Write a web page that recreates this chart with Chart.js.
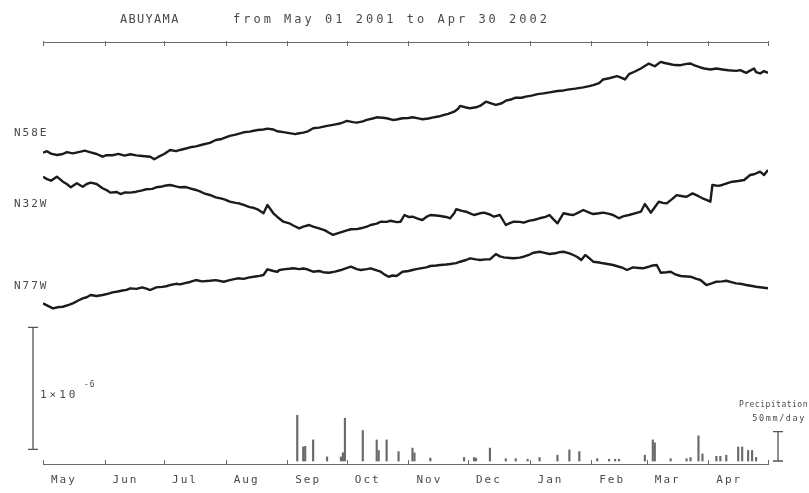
<!DOCTYPE html>
<html>
<head>
<meta charset="utf-8">
<title>ABUYAMA strain</title>
<script src="https://cdn.jsdelivr.net/npm/chart.js@4.4.1/dist/chart.umd.min.js"></script>
<style>
  html, body { margin: 0; padding: 0; background: #fff; }
  #wrap { width: 809px; height: 493px; position: relative; }
</style>
</head>
<body>
<div id="wrap"><canvas id="strainChart"></canvas></div>
<script>
// days counted from May 01 2001, strain change in units of 1e-6
const months = ['May', 'Jun', 'Jul', 'Aug', 'Sep', 'Oct', 'Nov', 'Dec', 'Jan', 'Feb', 'Mar', 'Apr'];
const monthStarts = [0, 31, 61, 92, 123, 153, 184, 214, 245, 276, 304, 335, 365];
const components = ['N58E', 'N32W', 'N77W'];
const traceBase = [2.552, 2.355, 1.317]; // where each trace sits on the sheet

const n58e = [[0,0],[2,0.012],[4,-0.008],[7,-0.019],[10,-0.011],[12,0.004],[15,-0.006],[19,0.008],[21,0.016],[24,0.002],
  [27,-0.011],[30,-0.033],[32,-0.02],[35,-0.021],[38,-0.01],[41,-0.024],[44,-0.013],[47,-0.022],[50,-0.027],[54,-0.033],
  [56,-0.054],[58,-0.035],[61,-0.011],[64,0.022],[67,0.012],[69,0.022],[72,0.034],[74,0.044],[77,0.052],[81,0.069],
  [84,0.08],[87,0.104],[90,0.112],[94,0.137],[97,0.148],[101,0.167],[104,0.172],[108,0.186],[111,0.19],[113,0.197],
  [116,0.19],[118,0.175],[121,0.168],[124,0.16],[127,0.152],[129,0.159],[131,0.164],[133,0.172],[136,0.2],[139,0.205],
  [143,0.219],[146,0.228],[150,0.241],[153,0.26],[156,0.25],[158,0.246],[161,0.256],[163,0.268],[166,0.28],[168,0.29],
  [171,0.286],[173,0.282],[176,0.268],[178,0.272],[181,0.282],[184,0.284],[186,0.29],[189,0.281],[191,0.274],[194,0.28],
  [196,0.287],[199,0.296],[202,0.309],[204,0.318],[207,0.336],[209,0.36],[210,0.383],[213,0.37],[215,0.364],[218,0.372],
  [220,0.383],[223,0.418],[226,0.402],[228,0.391],[231,0.405],[233,0.426],[236,0.438],[238,0.451],[241,0.45],[243,0.459],
  [246,0.468],[249,0.48],[252,0.486],[255,0.494],[259,0.505],[262,0.51],[265,0.519],[268,0.525],[272,0.535],[275,0.545],
  [277,0.554],[280,0.57],[282,0.6],[285,0.61],[289,0.627],[291,0.615],[293,0.6],[295,0.643],[298,0.665],[301,0.69],
  [303,0.71],[305,0.73],[308,0.708],[311,0.744],[313,0.735],[316,0.725],[318,0.718],[321,0.717],[324,0.728],[326,0.731],
  [328,0.716],[331,0.698],[333,0.69],[336,0.682],[339,0.69],[342,0.682],[345,0.675],[349,0.67],[351,0.676],[354,0.654],
  [356,0.672],[358,0.69],[359,0.66],[361,0.649],[363,0.668],[365,0.654]];

const n32w = [[0,0],[2,-0.02],[4,-0.033],[7,0],[10,-0.041],[12,-0.06],[14,-0.087],[17,-0.054],[20,-0.082],[22,-0.06],
  [24,-0.049],[27,-0.06],[30,-0.095],[32,-0.11],[34,-0.131],[37,-0.125],[39,-0.142],[41,-0.13],[44,-0.131],[47,-0.123],
  [50,-0.112],[52,-0.103],[55,-0.1],[57,-0.087],[60,-0.08],[62,-0.072],[64,-0.068],[67,-0.08],[69,-0.087],[72,-0.085],
  [74,-0.095],[77,-0.109],[79,-0.12],[81,-0.136],[84,-0.15],[87,-0.169],[90,-0.18],[92,-0.19],[94,-0.205],[97,-0.215],
  [99,-0.22],[101,-0.232],[104,-0.25],[106,-0.255],[108,-0.267],[111,-0.3],[113,-0.232],[116,-0.3],[118,-0.33],[121,-0.369],
  [124,-0.382],[126,-0.4],[129,-0.423],[131,-0.41],[134,-0.396],[136,-0.41],[139,-0.423],[142,-0.44],[144,-0.46],[146,-0.477],
  [149,-0.46],[151,-0.45],[153,-0.44],[155,-0.431],[158,-0.43],[160,-0.423],[163,-0.41],[165,-0.396],[168,-0.385],[170,-0.369],
  [173,-0.37],[175,-0.361],[178,-0.372],[180,-0.369],[182,-0.314],[184,-0.33],[186,-0.328],[189,-0.345],[191,-0.355],[193,-0.33],
  [195,-0.314],[198,-0.318],[200,-0.322],[203,-0.33],[205,-0.341],[207,-0.3],[208,-0.267],[211,-0.28],[213,-0.287],[215,-0.3],
  [217,-0.314],[220,-0.3],[222,-0.295],[225,-0.31],[227,-0.328],[230,-0.314],[233,-0.396],[235,-0.38],[237,-0.369],[240,-0.37],
  [242,-0.377],[245,-0.36],[247,-0.355],[250,-0.341],[253,-0.33],[255,-0.314],[257,-0.35],[259,-0.382],[262,-0.3],[265,-0.31],
  [267,-0.314],[270,-0.29],[272,-0.273],[275,-0.295],[277,-0.306],[280,-0.3],[282,-0.295],[285,-0.305],[287,-0.314],[290,-0.341],
  [292,-0.325],[295,-0.314],[298,-0.3],[301,-0.287],[303,-0.224],[306,-0.295],[308,-0.25],[310,-0.205],[312,-0.215],[314,-0.219],
  [317,-0.18],[319,-0.151],[322,-0.16],[324,-0.164],[327,-0.137],[330,-0.16],[332,-0.177],[334,-0.19],[336,-0.205],[337,-0.068],
  [340,-0.075],[342,-0.068],[345,-0.05],[347,-0.041],[350,-0.035],[353,-0.027],[356,0.014],[358,0.02],[361,0.041],[363,0.014],
  [365,0.055]];

const n77w = [[0,0],[3,-0.025],[5,-0.041],[8,-0.03],[10,-0.028],[13,-0.012],[15,0],[18,0.025],[20,0.041],[22,0.05],
  [24,0.068],[27,0.06],[30,0.068],[33,0.08],[35,0.09],[37,0.095],[40,0.105],[42,0.11],[44,0.123],[47,0.118],
  [50,0.131],[52,0.12],[54,0.109],[57,0.131],[60,0.135],[62,0.14],[64,0.15],[67,0.16],[69,0.155],[71,0.164],
  [74,0.175],[77,0.191],[80,0.18],[84,0.185],[87,0.19],[91,0.177],[94,0.19],[98,0.205],[101,0.2],[104,0.213],
  [107,0.22],[109,0.225],[111,0.232],[113,0.279],[116,0.265],[118,0.259],[119,0.273],[122,0.28],[124,0.283],[126,0.287],
  [129,0.28],[131,0.285],[133,0.279],[136,0.259],[139,0.265],[141,0.255],[144,0.251],[147,0.26],[150,0.273],[152,0.285],
  [155,0.3],[158,0.28],[160,0.273],[163,0.28],[165,0.287],[168,0.27],[170,0.259],[172,0.235],[174,0.218],[176,0.228],
  [178,0.224],[181,0.259],[184,0.265],[186,0.273],[188,0.28],[190,0.287],[193,0.295],[195,0.306],[198,0.31],[200,0.314],
  [203,0.318],[205,0.322],[208,0.33],[210,0.341],[213,0.355],[215,0.369],[218,0.36],[220,0.355],[223,0.36],[225,0.361],
  [228,0.404],[230,0.385],[232,0.377],[235,0.372],[237,0.369],[240,0.375],[242,0.382],[245,0.4],[247,0.415],[250,0.423],
  [252,0.415],[255,0.404],[258,0.41],[260,0.42],[262,0.423],[265,0.41],[267,0.396],[269,0.38],[271,0.355],[273,0.396],
  [275,0.37],[277,0.341],[280,0.335],[282,0.328],[285,0.32],[287,0.314],[290,0.3],[292,0.29],[294,0.273],[297,0.295],
  [300,0.29],[302,0.287],[305,0.3],[307,0.31],[309,0.314],[311,0.251],[314,0.255],[316,0.259],[318,0.24],[321,0.224],
  [324,0.22],[326,0.218],[329,0.2],[331,0.191],[334,0.15],[337,0.165],[339,0.177],[342,0.18],[344,0.185],[347,0.172],
  [349,0.164],[352,0.158],[354,0.15],[357,0.142],[359,0.136],[362,0.13],[365,0.123]];

// daily precipitation, mm/day
const precip = [[128,78],[131,24],[132,25],[136,36],[143,7],[150,7],[151,14],[152,73],[161,52],[168,36],
  [169,18],[173,36],[179,16],[186,22],[187,14],[195,5],[212,6],[217,6],[218,5],[225,22],
  [233,4],[238,4],[244,3],[250,6],[259,10],[265,19],[270,16],[279,4],[285,3],[288,3],
  [290,3],[303,10],[307,36],[308,31],[316,4],[324,4],[326,6],[330,43],[332,12],[339,8],
  [341,8],[344,10],[350,24],[352,24],[355,18],[357,18],[359,6]];

const traces = [n58e, n32w, n77w];
const labelShift = [-21, 26, -18]; // px from the start of each trace

const lineSets = traces.map((t, i) => ({
  type: 'line',
  label: components[i],
  data: t.map(p => ({ x: p[0], y: traceBase[i] + p[1] })),
  yAxisID: 'y',
  borderColor: '#1b1b1b',
  borderWidth: 2.4,
  borderJoinStyle: 'round',
  pointRadius: 0,
  tension: 0
}));

const rainSet = {
  type: 'bar',
  label: 'Precipitation',
  data: precip.map(p => ({ x: p[0], y: p[1] })),
  yAxisID: 'yp',
  backgroundColor: '#6a6a6a',
  barThickness: 1.5
};

const mono = 'DejaVu Sans Mono';

function spaced(ctx, text, x, y, size, spacing, align) {
  ctx.font = size + 'px "' + mono + '"';
  ctx.letterSpacing = spacing + 'px';
  ctx.textAlign = align || 'left';
  ctx.fillText(text, x, y);
}

const framePlugin = {
  id: 'frame',
  afterDraw(chart) {
    const { ctx, chartArea: a, scales } = chart;
    const xs = scales.x, ys = scales.y, yp = scales.yp;
    ctx.save();

    // top and bottom time axes
    ctx.strokeStyle = '#6a6a6a';
    ctx.lineWidth = 1;
    ctx.beginPath();
    ctx.moveTo(a.left, a.top + 0.5); ctx.lineTo(a.right, a.top + 0.5);
    ctx.moveTo(a.left, a.bottom + 0.5); ctx.lineTo(a.right, a.bottom + 0.5);
    monthStarts.forEach(d => {
      const px = Math.round(xs.getPixelForValue(d)) + 0.5;
      ctx.moveTo(px, a.top - 1); ctx.lineTo(px, a.top + 4);
      ctx.moveTo(px, a.bottom + 1); ctx.lineTo(px, a.bottom - 4);
    });
    ctx.stroke();

    ctx.fillStyle = '#4a4a4a';
    ctx.textBaseline = 'alphabetic';

    // month names
    months.forEach((m, i) => {
      spaced(ctx, m, xs.getPixelForValue(monthStarts[i] + 10) + 1, a.bottom + 19, 11, 2, 'center');
    });

    // title
    spaced(ctx, 'ABUYAMA', 120, 23, 12, 1.3);
    spaced(ctx, 'from May 01 2001 to Apr 30 2002', 233, 23, 12, 3);

    // component names
    traces.forEach((t, i) => {
      const py = ys.getPixelForValue(traceBase[i] + t[0][1]) + labelShift[i];
      spaced(ctx, components[i], 14, py + 4, 11, 2);
    });

    // strain scale bar, 1e-6
    const sx = a.left - 10;
    const s0 = ys.getPixelForValue(0.12), s1 = ys.getPixelForValue(1.12);
    ctx.strokeStyle = '#555';
    ctx.lineWidth = 1.3;
    ctx.beginPath();
    ctx.moveTo(sx, s0); ctx.lineTo(sx, s1);
    ctx.moveTo(sx - 5, s0); ctx.lineTo(sx + 5, s0);
    ctx.moveTo(sx - 5, s1); ctx.lineTo(sx + 5, s1);
    ctx.stroke();
    const mid = (s0 + s1) / 2;
    spaced(ctx, '1\u00d710', sx + 7, mid + 10, 11, 3);
    spaced(ctx, '-6', sx + 51, mid - 1, 8, 1);

    // precipitation scale bar, 50 mm/day
    const px = a.right + 10;
    const p0 = yp.getPixelForValue(0), p1 = yp.getPixelForValue(50);
    ctx.beginPath();
    ctx.moveTo(px, p0); ctx.lineTo(px, p1);
    ctx.moveTo(px - 5, p0); ctx.lineTo(px + 5, p0);
    ctx.moveTo(px - 5, p1); ctx.lineTo(px + 5, p1);
    ctx.stroke();
    spaced(ctx, 'Precipitation', 808, p1 - 25, 8, 0.5, 'right');
    spaced(ctx, '50mm/day', 806, p1 - 11, 8.5, 1.6, 'right');

    ctx.restore();
  }
};

const config = {
  data: { datasets: [...lineSets, rainSet] },
  options: {
    responsive: true,
    maintainAspectRatio: false,
    animation: false,
    layout: { padding: { left: 43, right: 41, top: 42, bottom: 29 } },
    plugins: {
      legend: { display: false },
      tooltip: { enabled: false }
    },
    scales: {
      x: { type: 'linear', min: 0, max: 365, offset: false, display: false },
      y: { type: 'linear', min: 0, max: 3.459, display: false },
      yp: { type: 'linear', min: -5.1, max: 714.9, display: false }
    }
  },
  plugins: [framePlugin]
};

const strainChart = new Chart(
  document.getElementById('strainChart'),
  config
);
</script>
</body>
</html>
